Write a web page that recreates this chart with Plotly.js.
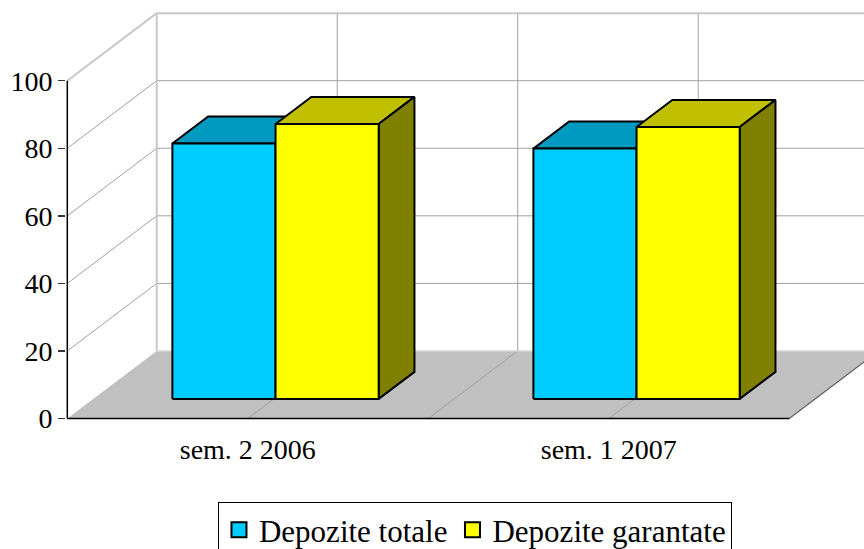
<!DOCTYPE html>
<html>
<head>
<meta charset="utf-8">
<script src="https://cdn.plot.ly/plotly-3.0.1.min.js"></script>
<style>html,body{margin:0;padding:0;background:#fff;}#chart{width:864px;height:549px;}</style>
</head>
<body>
<div id="chart"></div>
<script>
// ---- data ----
const categories = ['sem. 2 2006', 'sem. 1 2007'];
const seriesNames = ['Depozite totale', 'Depozite garantate'];
const depoziteTotale = [75.6, 74.1];
const depoziteGarantate = [81.4, 80.5];
const yTickValues = [0, 20, 40, 60, 80, 100];

// ---- 3D look (oblique projection) ----
const N = categories.length;
const DX = 0.2477;   // full floor depth, in category units
const DY = 20;       // full floor depth, in value units
const GAP = 1.5;     // gap width (as fraction of bar width)
const BW = 1 / (2 + GAP);
const FRONT = 0.29;  // bar front depth (fraction of floor depth)
const DEPTH = 0.4;   // bar depth (fraction of floor depth)
const YMAX = 100;

const styles = [
  {front: '#00CCFF', top: '#0099BF', side: '#007799'},
  {front: '#FFFF00', top: '#C0C000', side: '#808000'}
];
const seriesValues = [depoziteTotale, depoziteGarantate];

function poly(pts) { return pts.concat([pts[0], [null, null]]); }

const traces = [];
seriesValues.forEach((vals, s) => {
  const tops = [], sides = [], fronts = [];
  vals.forEach((v, i) => {
    const x0 = i + GAP / 2 * BW + s * BW + FRONT * DX + 0.005;
    const x1 = x0 + BW;
    const y0 = FRONT * DY;
    const y1 = v + FRONT * DY;
    const ddx = DEPTH * DX, ddy = DEPTH * DY;
    fronts.push(...poly([[x0, y0], [x1, y0], [x1, y1], [x0, y1]]));
    tops.push(...poly([[x0, y1], [x1, y1], [x1 + ddx, y1 + ddy], [x0 + ddx, y1 + ddy]]));
    sides.push(...poly([[x1, y0], [x1 + ddx, y0 + ddy], [x1 + ddx, y1 + ddy], [x1, y1]]));
  });
  [[tops, styles[s].top], [sides, styles[s].side], [fronts, styles[s].front]].forEach(([pts, col]) => {
    traces.push({
      type: 'scatter', mode: 'lines', fill: 'toself', fillcolor: col,
      x: pts.map(p => p[0]), y: pts.map(p => p[1]),
      line: {color: '#000', width: 2}, showlegend: false, hoverinfo: 'skip'
    });
  });
});
// legend entries
seriesNames.forEach((name, s) => {
  traces.push({
    type: 'scatter', mode: 'markers', name: name, x: [null], y: [null],
    marker: {symbol: 'square', size: 15, color: styles[s].front, line: {color: '#000', width: 2}}
  });
});
// axis lines
traces.push({type: 'scatter', mode: 'lines', x: [0, 0], y: [0, YMAX], line: {color: '#000', width: 1.5}, showlegend: false, hoverinfo: 'skip'});
traces.push({type: 'scatter', mode: 'lines', x: [0, N], y: [0, 0], line: {color: '#000', width: 1.5}, showlegend: false, hoverinfo: 'skip'});

// ---- walls, floor, gridlines (layout shapes) ----
const grid = '#a0a0a0', wall = '#c8c8c8';
const shapes = [];
function line(x0, y0, x1, y1, color, width) {
  shapes.push({type: 'line', xref: 'x', yref: 'y', x0, y0, x1, y1, layer: 'below', line: {color, width}});
}
// floor
shapes.push({type: 'path', xref: 'x', yref: 'y', layer: 'below',
  path: `M0,0 L${N},0 L${N + DX},${DY} L${DX},${DY} Z`, fillcolor: '#C0C0C0', line: {width: 0}});
// floor gridlines
for (let k = 1; k < 2 * N; k++) line(k / 2, 0, k / 2 + DX, DY, grid, 1);
line(N, 0, N + DX, DY, '#606060', 1.2);
// left wall gridlines
yTickValues.forEach(t => { if (t > 0 && t < YMAX) line(0, t, DX, t + DY, grid, 1); });
// back wall gridlines
yTickValues.forEach(t => { if (t > 0 && t < YMAX) line(DX, t + DY, N + DX, t + DY, grid, 1); });
for (let k = 1; k < 2 * N; k++) line(k / 2 + DX, DY, k / 2 + DX, YMAX + DY, grid, 1);
// wall borders
line(0, YMAX, DX, YMAX + DY, wall, 2);
line(DX, DY, DX, YMAX + DY, wall, 2);
line(DX, YMAX + DY, N + DX, YMAX + DY, wall, 2);
line(DX, DY, N + DX, DY, '#d4d4d4', 1.5);

const xRange = [-0.0036, 2.2069];
const yRange = [-2.516, 123.89];
const font = {family: '"Liberation Serif", "Times New Roman", serif', color: '#000'};

const layout = {
  width: 864, height: 549,
  margin: {l: 66, r: 0, t: 0, b: 122, autoexpand: false},
  paper_bgcolor: '#fff', plot_bgcolor: '#fff',
  hovermode: false,
  showlegend: true,
  font: font,
  xaxis: {
    range: xRange, showgrid: false, zeroline: false, showline: false,
    tickvals: categories.map((c, i) => i + 0.5), ticktext: categories,
    ticks: '', tickfont: Object.assign({size: 28}, font), ticklabelstandoff: 3
  },
  xaxis2: {
    range: xRange, overlaying: 'x', anchor: 'y', side: 'bottom',
    showgrid: false, zeroline: false, showline: false, showticklabels: false,
    tickvals: Array.from({length: N + 1}, (_, i) => i),
    ticks: 'inside', ticklen: 8, tickwidth: 1.5, tickcolor: '#333'
  },
  yaxis: {
    range: yRange, showgrid: false, zeroline: false, showline: false,
    tickvals: yTickValues, ticks: 'outside', ticklen: 7, tickwidth: 1.5, tickcolor: '#333',
    tickfont: Object.assign({size: 28}, font)
  },
  legend: {
    orientation: 'h', x: 0.5125, xanchor: 'center', y: -0.1756, yanchor: 'top',
    bordercolor: '#000', borderwidth: 1, bgcolor: '#fff',
    font: Object.assign({size: 31}, font)
  },
  shapes: shapes
};

Plotly.newPlot('chart', traces, layout, {staticPlot: true, displayModeBar: false});
</script>
</body>
</html>
